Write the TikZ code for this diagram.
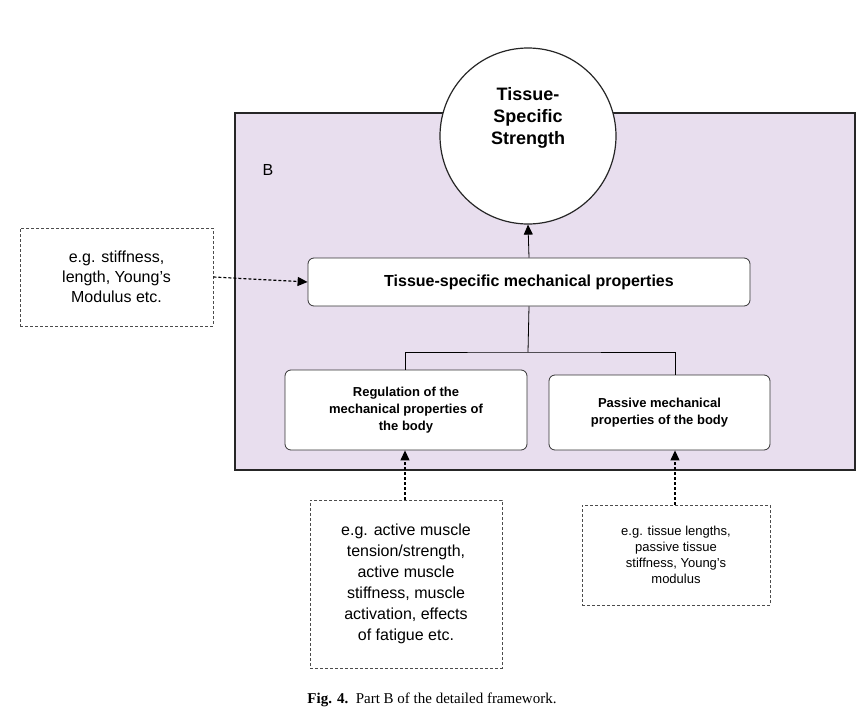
\documentclass[tikz,border=0pt]{standalone}
\usepackage{fontspec}
\setmainfont{Liberation Sans}
\newfontfamily\capfont{Liberation Serif}
\usetikzlibrary{arrows.meta}
\definecolor{lav}{RGB}{232,222,238}
\begin{document}
\begin{tikzpicture}[x=1pt,y=-1pt,
  box/.style={draw=black!80,fill=white,rounded corners=6pt,thick,align=center,font=\bfseries},
  dbox/.style={draw=black!70,dash pattern=on 3pt off 2pt,thick,fill=white,align=center},
  arr/.style={-{Triangle[length=10pt,width=9pt]},thick},
  darr/.style={-{Triangle[length=10pt,width=9pt]},very thick,dash pattern=on 3pt off 2pt}]
\useasboundingbox (0,0) rectangle (868,723);
\node[draw=black!85,very thick,fill=lav,minimum width=620pt,minimum height=357pt,inner sep=0pt] (frame) at (545,291.5) {};
\node[draw=black!85,very thick,fill=white,circle,minimum size=176pt] (strength) at (528,136) {};
\node[align=center,font=\fontsize{18}{22}\selectfont\bfseries] (title) at (528,118) {Tissue-\\Specific\\Strength};
\node[font=\fontsize{16}{19}\selectfont] (B) at (268,170) {B};
\node[box,minimum width=442pt,minimum height=48pt,font=\fontsize{16}{19}\selectfont\bfseries] (mech) at (529,282) {Tissue-specific mechanical properties};
\node[box,minimum width=242pt,minimum height=80pt,font=\fontsize{13}{17}\selectfont\bfseries] (reg) at (406,410) {Regulation of the\\mechanical properties of\\the body};
\node[box,minimum width=221pt,minimum height=75pt,font=\fontsize{13}{17}\selectfont\bfseries] (pas) at (659.5,412.5) {Passive mechanical\\properties of the body};
\node[dbox,minimum width=193pt,minimum height=98pt,font=\fontsize{16}{20}\selectfont] (ex1) at (116.5,277) {e.g. stiffness,\\length, Young's\\Modulus etc.};
\node[dbox,minimum width=192pt,minimum height=168pt,font=\fontsize{16}{21}\selectfont] (ex2) at (406,584) {e.g. active muscle\\tension/strength,\\active muscle\\stiffness, muscle\\activation, effects\\of fatigue etc.};
\node[dbox,minimum width=188pt,minimum height=100pt,font=\fontsize{13}{16}\selectfont] (ex3) at (676,555) {e.g. tissue lengths,\\passive tissue\\stiffness, Young's\\modulus};
\node[font=\capfont\fontsize{15}{17}\selectfont] (cap) at (432,700) {\textbf{Fig. 4.}\ \ Part B of the detailed framework.};
\draw[arr] (mech.north) -- (strength.south);
\coordinate (j) at (528,352);
\draw[thick] (mech.south) -- (j);
\draw[thick] (reg.north -| 405,0) |- (j) -| (pas.north -| 675,0);
\draw[darr] (ex1.east) -- (mech.west);
\draw[darr] (ex2.north -| 405,0) -- (reg.south -| 405,0);
\draw[darr] (ex3.north -| 675,0) -- (pas.south -| 675,0);
\end{tikzpicture}
\end{document}
